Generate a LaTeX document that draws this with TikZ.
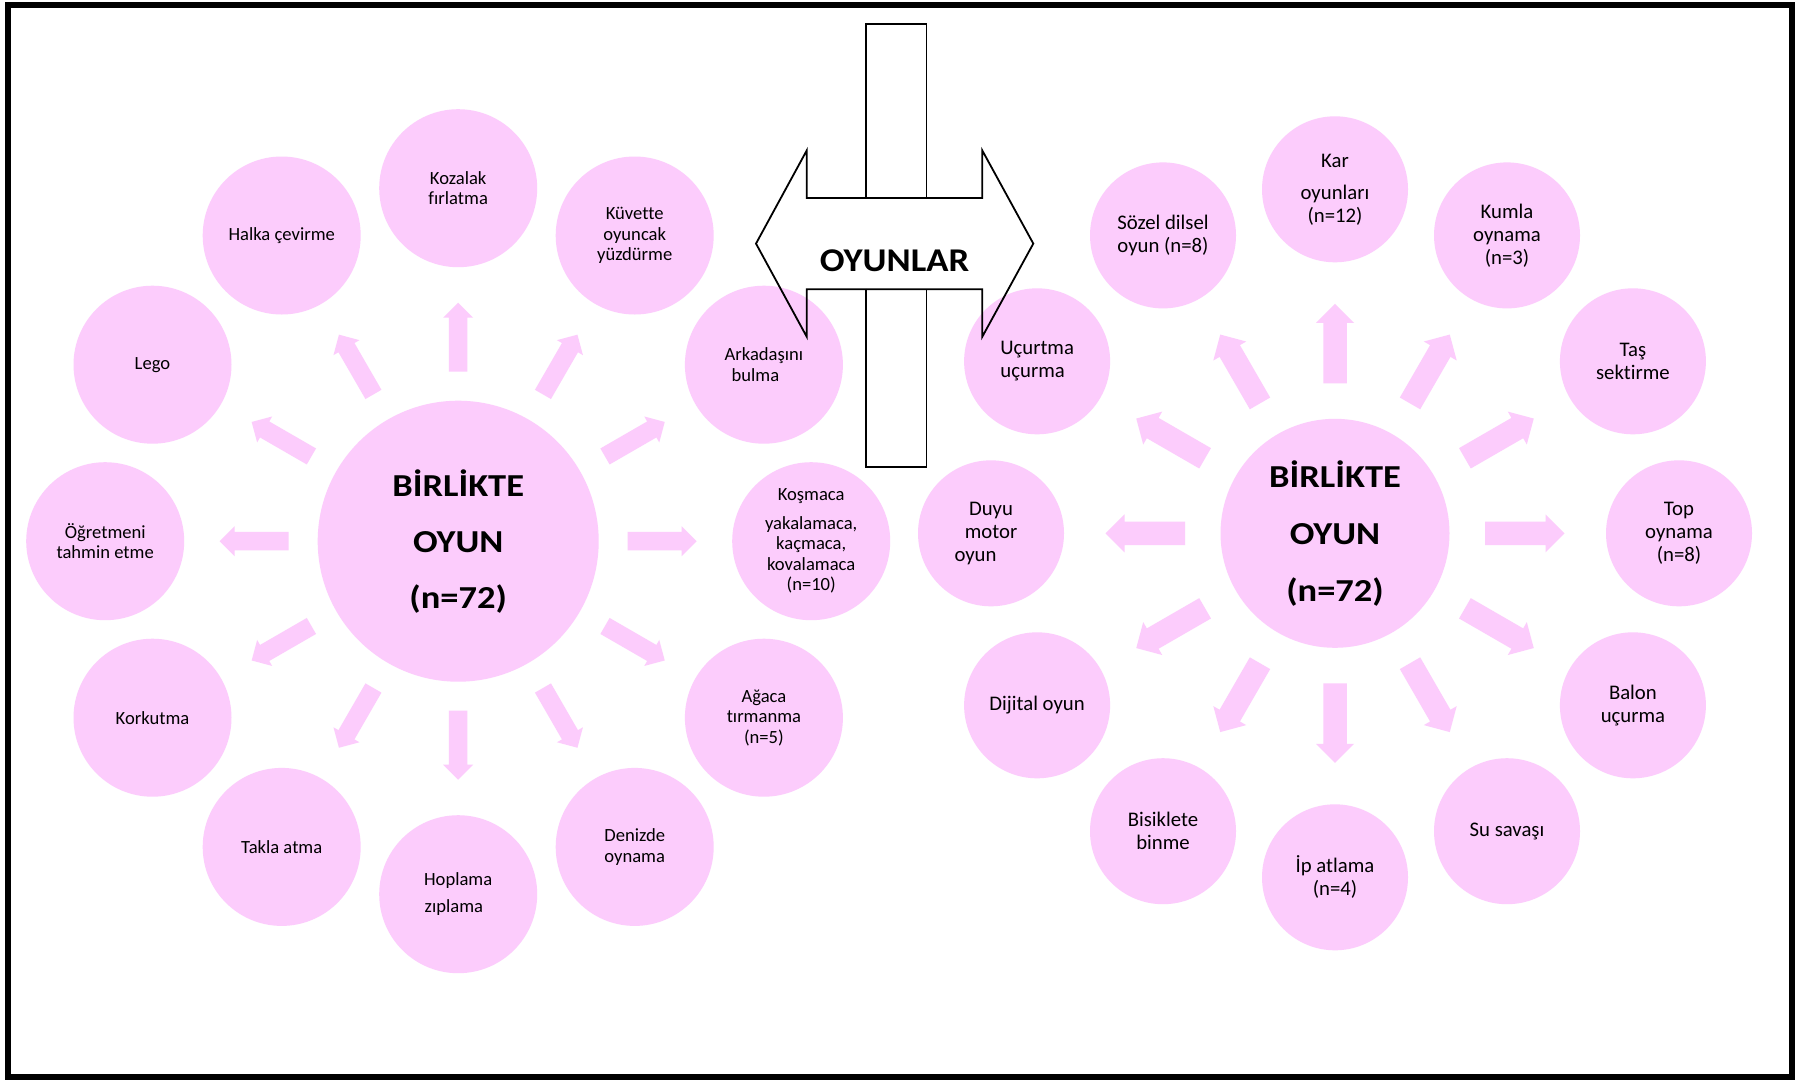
\documentclass[tikz,border=0pt]{standalone}
\usepackage{fontspec}
\setmainfont{Carlito}[Ligatures=NoCommon]
\usetikzlibrary{calc}
\definecolor{blush}{RGB}{252,204,252}

% widened bold lettering used in the two hub circles and the banner
\newcommand\wide[1]{\scalebox{1.14}[1]{#1}}

% block arrow pointing from hub #1 towards bubble #2:
% #3 start radius, #4 tip radius, #5 half shaft width, #6 half head width, #7 head length
\newcommand\blockarrow[7]{%
  \coordinate (ba-s) at ($(#1)!#3!(#2)$);
  \coordinate (ba-b) at ($(#1)!#4-#7!(#2)$);
  \coordinate (ba-t) at ($(#1)!#4!(#2)$);
  \fill[blush] ($(ba-s)!#5!90:(ba-t)$) -- ($(ba-b)!#5!90:(ba-t)$)
    -- ($(ba-b)!#6!90:(ba-t)$) -- (ba-t) -- ($(ba-b)!#6!-90:(ba-t)$)
    -- ($(ba-b)!#5!-90:(ba-t)$) -- ($(ba-s)!#5!-90:(ba-t)$) -- cycle;}

\begin{document}
\begin{tikzpicture}[x=1pt,y=-1pt,
  bubble/.style={circle,fill=blush,inner sep=0pt,align=center,text=black},
  lsat/.style={bubble,minimum size=158pt,font=\fontsize{18.6}{20.5}\selectfont},
  rsat/.style={bubble,minimum size=146pt,font=\fontsize{20.75}{23}\selectfont},
  lhub/.style={bubble,minimum size=281pt,font=\fontsize{32}{56}\selectfont\bfseries},
  rhub/.style={bubble,minimum size=229pt,font=\fontsize{32}{57}\selectfont\bfseries},
  outline/.style={draw=black,line width=1.8pt}]

\useasboundingbox (0,0) rectangle (1795,1080);
\fill[white] (0,0) rectangle (1795,1080);

% ---------- left cluster ----------
\node[lhub] (lc) at (458.2,541.2) {\wide{BİRLİKTE}\\\wide{OYUN}\\\wide{(n=72)}};
\node[lsat] (ko) at (811.2,541.2) {Koşmaca\\[8pt]yakalamaca,\\kaçmaca,\\kovalamaca\\(n=10)};
\node[lsat] (ar) at (763.9,364.7) {Arkadaşını\\bulma\kern17pt};
\node[lsat] (ku) at (634.7,235.5) {Küvette\\oyuncak\\yüzdürme};
\node[lsat] (kz) at (458.2,188.2) {Kozalak\\fırlatma};
\node[lsat] (ha) at (281.7,235.5) {Halka çevirme};
\node[lsat] (le) at (152.5,364.7) {Lego};
\node[lsat] (og) at (105.2,541.2) {Öğretmeni\\tahmin etme};
\node[lsat] (kr) at (152.5,717.7) {Korkutma};
\node[lsat] (ta) at (281.7,846.9) {Takla atma};
\node[lsat] (ho) at (458.2,894.2) {Hoplama\\[7pt]zıplama\kern8.6pt};
\node[lsat] (de) at (634.7,846.9) {Denizde\\oynama};
\node[lsat] (ag) at (763.9,717.7) {Ağaca\\tırmanma\\(n=5)};

\foreach \s in {ko,ar,ku,kz,ha,le,og,kr,ta,ho,de,ag}
  {\blockarrow{lc}{\s}{169.5pt}{238.5pt}{9.25pt}{15pt}{15pt}}

% ---------- right cluster ----------
\node[rhub] (rc) at (1335,533.3) {\wide{BİRLİKTE}\\\wide{OYUN}\\\wide{(n=72)}};
\node[rsat] (tp) at (1679,533.3) {Top\\oynama\\(n=8)};
\node[rsat] (ts) at (1632.9,361.3) {Taş\\sektirme};
\node[rsat] (km) at (1507,235.4) {Kumla\\oynama\\(n=3)};
\node[rsat] (kar) at (1335,189.3) {Kar\\[9pt]oyunları\\(n=12)};
\node[rsat] (sz) at (1163,235.4) {Sözel dilsel\\oyun (n=8)};
\node[rsat] (uc) at (1037.1,361.3) {Uçurtma\\uçurma\kern9pt};
\node[rsat] (du) at (991,533.3) {Duyu\\motor\\oyun\kern31pt};
\node[rsat] (dj) at (1037.1,705.3) {Dijital oyun};
\node[rsat] (bs) at (1163,831.2) {Bisiklete\\binme};
\node[rsat] (ip) at (1335,877.3) {İp atlama\\(n=4)};
\node[rsat] (su) at (1507,831.2) {Su savaşı};
\node[rsat] (bl) at (1632.9,705.3) {Balon\\uçurma};

\foreach \s in {tp,ts,km,kar,sz,uc,du,dj,bs,ip,su,bl}
  {\blockarrow{rc}{\s}{150pt}{229.5pt}{11.75pt}{19pt}{19pt}}

% ---------- central banner: vertical bar crossed by a double arrow ----------
\draw[outline] (866,198.5) -- (866,24) -- (926.5,24) -- (926.5,198.5);
\draw[outline] (866,288.8) -- (866,466.7) -- (926.5,466.7) -- (926.5,288.8);
\draw[outline,line join=miter] (756,243.6) -- (806.7,150.5) -- (806.7,198) -- (982.3,198)
  -- (982.3,150.5) -- (1033.3,243.6) -- (982.3,336.7) -- (982.3,289.3)
  -- (806.7,289.3) -- (806.7,336.7) -- cycle;
\node[font=\fontsize{33.2}{40}\selectfont\bfseries,anchor=base,inner sep=0pt] (oy)
  at (894.5,271.7) {\scalebox{1.105}[1]{OYUNLAR}};

% ---------- frame ----------
\draw[line width=6pt] (7.5,5) rectangle (1791.5,1077);
\end{tikzpicture}
\end{document}
